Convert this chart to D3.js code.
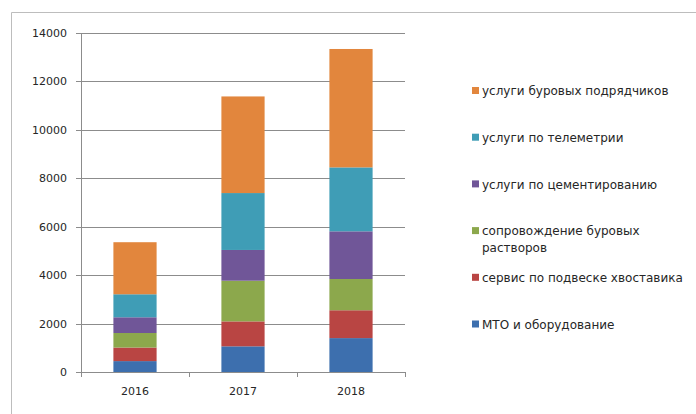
<!DOCTYPE html>
<html lang="ru">
  <head>
    <meta charset="utf-8">
    <title>Stacked bars</title>
  </head>
  <style>
    body { margin: 0; background: #fff; }
    .axis text {
      font-family: 'DejaVu Sans', sans-serif;
      font-size: 11px;
      fill: #262626;
    }
    .axis path, .axis line { stroke: #8c8c8c; shape-rendering: crispEdges; }
    .grid line { stroke: #8c8c8c; shape-rendering: crispEdges; }
    .legend text {
      font-family: 'DejaVu Sans', sans-serif;
      font-size: 12px;
      fill: #262626;
    }
  </style>
  <body>
    <div id="svg-area"></div>
    <script src="https://cdn.jsdelivr.net/npm/d3@7"></script>
    <script>
      const svg_width = 696;
      const svg_height = 414;

      const years = ['2016', '2017', '2018'];
      const series = [
        'МТО и оборудование',
        'сервис по подвеске хвоставика',
        'сопровождение буровых растворов',
        'услуги по цементированию',
        'услуги по телеметрии',
        'услуги буровых подрядчиков'
      ];
      const mto = [450, 1060, 1400];
      const servis = [560, 1030, 1150];
      const soprov = [600, 1680, 1290];
      const cement = [650, 1270, 1970];
      const telemetry = [950, 2350, 2640];
      const drilling = [2150, 3990, 4890];
      const y_ticks = [0, 2000, 4000, 6000, 8000, 10000, 12000, 14000];
      const colors = ['#3d6fae', '#b94543', '#8ca84c', '#705698', '#3f9db6', '#e2863d'];

      const values = [mto, servis, soprov, cement, telemetry, drilling];
      const table = years.map((y, i) => {
        const row = { year: y };
        series.forEach((s, k) => { row[s] = values[k][i]; });
        return row;
      });

      const margin = {top: 33, right: 291, bottom: 42, left: 81};

      const svg = d3.select('#svg-area')
        .append('svg')
        .attr('width', svg_width)
        .attr('height', svg_height);

      // outer frame
      svg.append('path')
        .attr('d', `M11.5,${svg_height}V12.5H${svg_width}`)
        .attr('fill', 'none')
        .attr('stroke', '#bdbdbd');

      const x_scale = d3.scaleBand()
        .domain(years)
        .range([margin.left, svg_width - margin.right])
        .paddingInner(0.6)
        .paddingOuter(0.3);
      const y_scale = d3.scaleLinear()
        .domain([0, 14000])
        .range([svg_height - margin.bottom, margin.top]);

      // gridlines
      svg.append('g')
        .attr('class', 'grid')
        .selectAll('line').data(y_ticks.slice(1)).enter()
        .append('line')
        .attr('x1', margin.left)
        .attr('x2', svg_width - margin.right)
        .attr('y1', d => Math.round(y_scale(d)) + 0.5)
        .attr('y2', d => Math.round(y_scale(d)) + 0.5);

      // bars
      const stack = d3.stack().keys(series)(table);
      svg.append('g')
        .selectAll('g').data(stack).enter()
        .append('g')
        .attr('fill', (d, i) => colors[i])
        .selectAll('rect').data(d => d).enter()
        .append('rect')
        .attr('x', d => x_scale(d.data.year))
        .attr('y', d => y_scale(d[1]))
        .attr('width', x_scale.bandwidth())
        .attr('height', d => y_scale(d[0]) - y_scale(d[1]));

      // axes
      const y_axis = d3.axisLeft(y_scale).tickValues(y_ticks)
        .tickFormat(d3.format('d')).tickSize(5).tickPadding(9);
      svg.append('g')
        .attr('class', 'axis')
        .attr('transform', `translate(${margin.left},0)`)
        .call(y_axis)
        .call(g => g.select('.domain').attr('d', `M0.5,${margin.top}V${svg_height - margin.bottom}`));

      const step = (svg_width - margin.right - margin.left) / years.length;
      const x_axis_g = svg.append('g')
        .attr('class', 'axis')
        .attr('transform', `translate(0,${svg_height - margin.bottom})`);
      x_axis_g.call(d3.axisBottom(x_scale).tickSize(0).tickPadding(15))
        .call(g => g.select('.domain').attr('d', `M${margin.left},0.5H${svg_width - margin.right}`));
      x_axis_g.selectAll('.xt').data(d3.range(years.length + 1)).enter()
        .append('line')
        .attr('class', 'xt')
        .attr('x1', i => Math.round(margin.left + i * step) + 0.5)
        .attr('x2', i => Math.round(margin.left + i * step) + 0.5)
        .attr('y1', 0).attr('y2', 5);

      // legend
      const legend = svg.append('g').attr('class', 'legend');
      const leg_items = series.map((s, i) => ({ name: s, color: colors[i] })).reverse();
      const leg_lines = [
        ['услуги буровых подрядчиков'],
        ['услуги по телеметрии'],
        ['услуги по цементированию'],
        ['сопровождение буровых', 'растворов'],
        ['сервис по подвеске хвоставика'],
        ['МТО и оборудование']
      ];
      const item = legend.selectAll('g').data(leg_items).enter()
        .append('g')
        .attr('transform', (d, i) => `translate(472,${91 + i * 46.7})`);
      item.append('rect')
        .attr('x', 0).attr('y', -4)
        .attr('width', 7).attr('height', 7)
        .attr('fill', d => d.color);
      item.append('text')
        .attr('x', 10)
        .attr('y', 0)
        .selectAll('tspan').data((d, i) => leg_lines[i]).enter()
        .append('tspan')
        .attr('x', 10)
        .attr('dy', (t, j) => j === 0 ? '0.35em' : '17px')
        .text(t => t);
    </script>
  </body>
</html>
